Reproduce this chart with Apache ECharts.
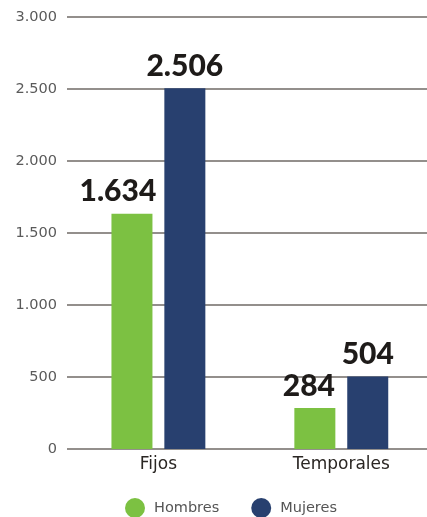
<!DOCTYPE html>
<html>
<head>
<meta charset="utf-8">
<script src="https://cdn.jsdelivr.net/npm/echarts@6/dist/echarts.min.js"></script>
<style>
  html, body { margin: 0; padding: 0; background: #fff; }
  #chart { width: 427px; height: 517px; }
</style>
</head>
<body>
<div id="chart"></div>
<script>
// Contract types and headcount by sex
const categories = ['Fijos', 'Temporales'];
const hombres = [1634, 284];
const mujeres = [2506, 504];
const seriesNames = ['Hombres', 'Mujeres'];
const yMax = 3000;
const yStep = 500;

// Horizontal nudges for the green value labels so they clear the taller blue bars
const hombresLabelShift = [-14, -6];

// Spanish-style thousands separator: 2506 -> "2.506"
function fmt(v) {
  return String(v).replace(/\B(?=(\d{3})+(?!\d))/g, '.');
}

const chart = echarts.init(document.getElementById('chart'), null, { renderer: 'canvas' });

const valueLabel = {
  show: true,
  position: 'top',
  distance: 7,
  formatter: p => fmt(p.value),
  fontFamily: 'Lato',
  fontWeight: 900,
  fontSize: 30,
  color: '#1e1b19'
};

chart.setOption({
  animation: false,
  // grid 0 carries the full-width gridlines and tick labels,
  // grid 1 places the two category groups
  grid: [
    { left: 67, right: 0, top: 17, height: 432, containLabel: false },
    { left: 158.4, right: 85.7, top: 17, height: 432, containLabel: false }
  ],
  legend: {
    data: seriesNames,
    left: 125,
    top: 498,
    padding: 0,
    icon: 'circle',
    itemWidth: 20,
    itemHeight: 20,
    itemGap: 32,
    textStyle: { fontFamily: 'DejaVu Sans', fontSize: 14.5, color: '#555', padding: [0, 0, 0, 4] }
  },
  xAxis: [
    { gridIndex: 0, type: 'category', data: categories, show: false },
    {
      gridIndex: 1,
      type: 'category',
      data: categories,
      boundaryGap: false,
      axisLine: { show: false },
      axisTick: { show: false },
      splitLine: { show: false },
      axisLabel: { fontFamily: 'DejaVu Sans', fontSize: 17, color: '#2a2623', margin: 7 }
    }
  ],
  yAxis: [
    {
      gridIndex: 0,
      type: 'value',
      min: 0,
      max: yMax,
      interval: yStep,
      axisLine: { show: false },
      axisTick: { show: false },
      splitLine: { lineStyle: { color: '#6f6a66', width: 1.5 } },
      axisLabel: { fontFamily: 'DejaVu Sans', fontSize: 14.5, color: '#5a5a5a', margin: 10, formatter: v => fmt(v) }
    },
    { gridIndex: 1, type: 'value', min: 0, max: yMax, interval: yStep, show: false, splitLine: { show: false } }
  ],
  series: [
    {
      name: seriesNames[0],
      type: 'bar',
      xAxisIndex: 1,
      yAxisIndex: 1,
      data: hombres.map((v, i) => ({ value: v, label: { offset: [hombresLabelShift[i], 0] } })),
      barWidth: 41,
      barGap: '29%',
      itemStyle: { color: '#7cc142' },
      label: valueLabel
    },
    {
      name: seriesNames[1],
      type: 'bar',
      xAxisIndex: 1,
      yAxisIndex: 1,
      data: mujeres,
      barWidth: 41,
      barGap: '29%',
      itemStyle: { color: '#28406f' },
      label: valueLabel
    }
  ]
});
</script>
</body>
</html>
